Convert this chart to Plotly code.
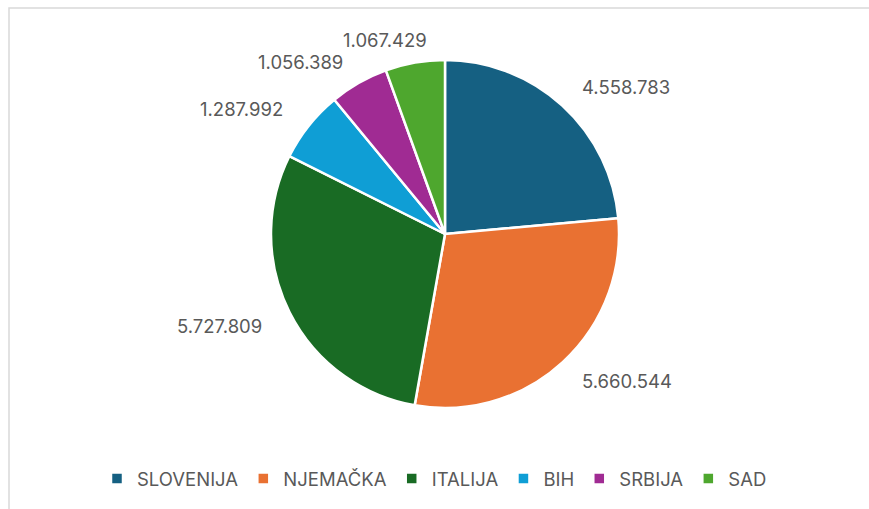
import math
import plotly.graph_objects as go

countries = ["SLOVENIJA", "NJEMAČKA", "ITALIJA", "BIH", "SRBIJA", "SAD"]
values = [4558783, 5660544, 5727809, 1287992, 1056389, 1067429]
value_labels = ["4.558.783", "5.660.544", "5.727.809", "1.287.992", "1.056.389", "1.067.429"]
colors = ["#156082", "#E97132", "#196B24", "#0F9ED5", "#A02B93", "#4EA72E"]

W, H = 869, 509
cx, cy, r = 445, 234, 174
# label placement style (distance of label box edge from centre, px)
RX, RY = 202, 189
LABEL_W, LABEL_H = 90, 15
BLEND = 1.6

fig = go.Figure(go.Pie(
    labels=countries,
    values=values,
    text=value_labels,
    textinfo="none",
    sort=False,
    direction="clockwise",
    rotation=0,
    marker=dict(colors=colors, line=dict(color="white", width=2.5)),
    domain=dict(x=[(cx - r) / W, (cx + r) / W], y=[(H - cy - r) / H, (H - cy + r) / H]),
    showlegend=True,
    hoverinfo="label+value",
))

# data labels placed outside each slice at its mid angle
total = sum(values)
annotations = []
cum = 0.0
for v, lab in zip(values, value_labels):
    mid = (cum + v / 2) / total * 2 * math.pi
    cum += v
    s, c = math.sin(mid), math.cos(mid)
    px = cx + RX * s
    py = cy - RY * c
    fx = min(1, max(0, 0.5 - BLEND * s))   # fraction of width left of anchor
    fy = min(1, max(0, 0.5 + BLEND * c))   # fraction of height above anchor
    lx = px + (0.5 - fx) * LABEL_W
    ly = py + (0.5 - fy) * LABEL_H
    annotations.append(dict(
        x=lx / W, y=1 - ly / H, xref="paper", yref="paper",
        text=lab, showarrow=False, xanchor="center", yanchor="middle",
        font=dict(family="Inter", size=18.5, color="#595959"),
    ))

fig.update_layout(
    width=W, height=H,
    margin=dict(l=0, r=0, t=0, b=0),
    paper_bgcolor="white",
    plot_bgcolor="white",
    annotations=annotations,
    legend=dict(
        orientation="h",
        x=0.5, xanchor="center",
        y=(H - 479) / H, yanchor="middle",
        font=dict(family="Inter", size=18.5, color="#595959"),
        itemwidth=30,
        traceorder="normal",
    ),
    shapes=[dict(
        type="rect", xref="paper", yref="paper",
        x0=9 / W, x1=1.05, y0=-0.05, y1=1 - 8 / H,
        line=dict(color="#D9D9D9", width=1.5),
        fillcolor="rgba(0,0,0,0)",
        layer="below",
    )],
)

fig.write_html("out.html")
